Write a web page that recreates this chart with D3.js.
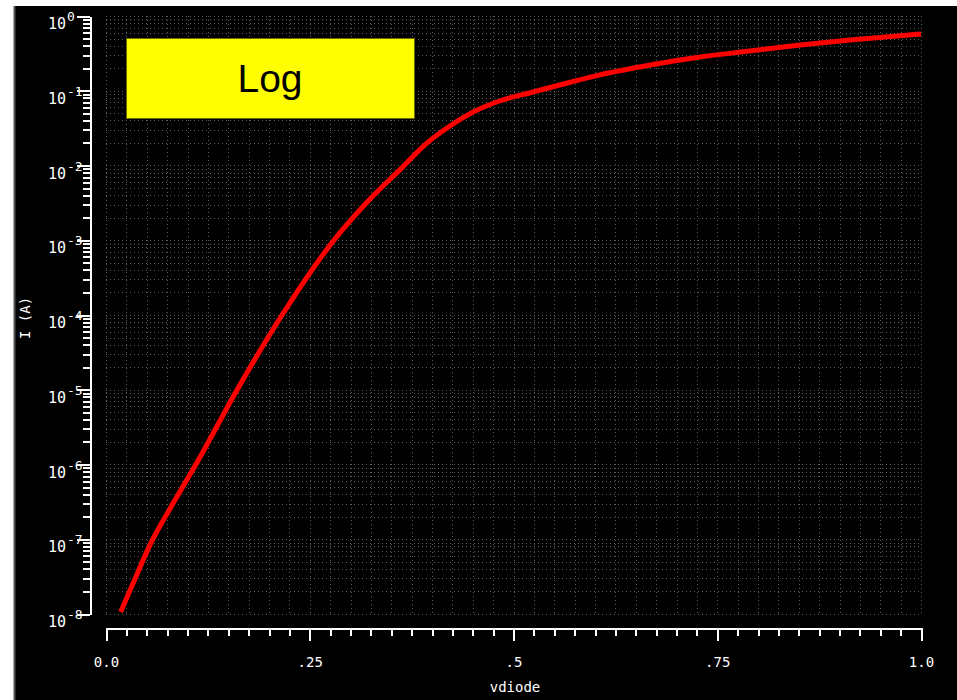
<!DOCTYPE html>
<html>
<head>
<meta charset="utf-8">
<script src="https://cdn.jsdelivr.net/npm/d3@7"></script>
<style>
  html, body { margin: 0; padding: 0; background: #fff; }
  svg { display: block; }
  .lbl { font-family: 'DejaVu Sans Mono', monospace; fill: #fff; }
</style>
</head>
<body>
<svg id="chart" width="957" height="700"></svg>
<script>
'use strict'

// diode sweep
const vdiode = [0.018, 0.036, 0.054, 0.079, 0.112, 0.158, 0.216, 0.279, 0.324, 0.363,
    0.391, 0.422, 0.453, 0.483, 0.524, 0.566, 0.606, 0.668, 0.729, 0.790, 0.852, 0.913, 1.0]
const current = [1.06e-8, 3.03e-8, 8.4e-8, 2.62e-7, 1.08e-6, 8.8e-6, 1.0e-4, 9.8e-4, 3.56e-3, 9.3e-3,
    1.88e-2, 3.38e-2, 5.36e-2, 7.29e-2, 9.62e-2, 0.127, 0.163, 0.221, 0.283, 0.340, 0.409, 0.477, 0.574]

const xMajor = [0, 0.25, 0.5, 0.75, 1.0]
const xMajorLabels = ['0.0', '.25', '.5', '.75', '1.0']
const yDecades = [0, -1, -2, -3, -4, -5, -6, -7, -8]

const svg = d3.select('#chart')

// black panel
svg.append('rect').attr('x', 15).attr('y', 6).attr('width', 942).attr('height', 694).attr('fill', '#000')
svg.append('line').attr('x1', 14.5).attr('x2', 14.5).attr('y1', 6).attr('y2', 700)
    .attr('stroke', '#555').attr('stroke-width', 2)

const x = d3.scaleLinear().domain([0, 1]).range([106, 921])
const y = d3.scaleLog().domain([1e-8, 1]).range([614, 16])

const xMinor = d3.range(0, 41).map(i => i * 0.025)
const yAll = y.ticks()

// dotted grid
const grid = svg.append('g').attr('stroke', '#5e5e5e').attr('stroke-dasharray', '1,3')
    .attr('shape-rendering', 'crispEdges')
grid.selectAll('.gv').data(xMinor).join('line')
    .attr('x1', d => Math.round(x(d)) + 0.5).attr('x2', d => Math.round(x(d)) + 0.5)
    .attr('y1', y(1)).attr('y2', y(1e-8))
grid.selectAll('.gh').data(yAll).join('line')
    .attr('y1', d => Math.round(y(d)) + 0.5).attr('y2', d => Math.round(y(d)) + 0.5)
    .attr('x1', x(0)).attr('x2', x(1))

// x axis
const xAxisY = 628
const gxMinor = svg.append('g').attr('transform', `translate(0,${xAxisY})`)
    .call(d3.axisBottom(x).tickValues(xMinor).tickSize(8).tickSizeOuter(0).tickFormat(''))
const gxMajor = svg.append('g').attr('transform', `translate(0,${xAxisY})`)
    .call(d3.axisBottom(x).tickValues(xMajor).tickSize(13).tickSizeOuter(0)
        .tickFormat((d, i) => xMajorLabels[i]))
gxMajor.selectAll('text').attr('class', 'lbl').attr('y', 39).attr('dy', 0)
    .style('font-size', '14px')

// y axis
const yAxisX = 90
const gyMinor = svg.append('g').attr('transform', `translate(${yAxisX},0)`)
    .call(d3.axisLeft(y).tickValues(yAll).tickSize(7).tickSizeOuter(0).tickFormat(''))
const gyMajor = svg.append('g').attr('transform', `translate(${yAxisX},0)`)
    .call(d3.axisLeft(y).tickValues(yDecades.map(e => Math.pow(10, e))).tickSize(13)
        .tickSizeOuter(0).tickFormat(''))

for (const g of [gxMinor, gxMajor, gyMinor, gyMajor]) {
    g.selectAll('path, line').attr('stroke', '#fff').attr('stroke-width', 2)
        .attr('shape-rendering', 'crispEdges')
    g.attr('font-family', null).attr('font-size', null)
}

const yl = svg.append('g')
yDecades.forEach(e => {
    const ty = y(Math.pow(10, e))
    yl.append('text').attr('class', 'lbl').attr('x', 66).attr('y', ty + 13)
        .attr('text-anchor', 'end').style('font-size', '15px').text('10')
    yl.append('text').attr('class', 'lbl').attr('x', 67).attr('y', ty + 5)
        .style('font-size', '13px').text(e === 0 ? '0' : '-' + (-e))
})

// axis titles
svg.append('text').attr('class', 'lbl').attr('x', 515).attr('y', 692)
    .attr('text-anchor', 'middle').style('font-size', '14px').text('vdiode')
svg.append('text').attr('class', 'lbl')
    .attr('transform', 'translate(30,318) rotate(-90)')
    .attr('text-anchor', 'middle').style('font-size', '14px').text('I (A)')

// yellow annotation box
svg.append('rect').attr('x', 126.5).attr('y', 38.5).attr('width', 288).attr('height', 80)
    .attr('fill', '#ffff00').attr('stroke', '#6b6b00').attr('stroke-width', 1)
svg.append('text').attr('x', 270).attr('y', 92).attr('text-anchor', 'middle')
    .style('font-family', "'Liberation Sans', Arial, sans-serif").style('font-size', '39px')
    .attr('fill', '#000').text('Log')

// I-V curve
const pts = vdiode.map((v, i) => [v, current[i]])
const line = d3.line().x(d => x(d[0])).y(d => y(d[1])).curve(d3.curveMonotoneX)
svg.append('path').datum(pts).attr('d', line)
    .attr('fill', 'none').attr('stroke', '#ff0000').attr('stroke-width', 5)
    .attr('stroke-linejoin', 'round')
</script>
</body>
</html>
